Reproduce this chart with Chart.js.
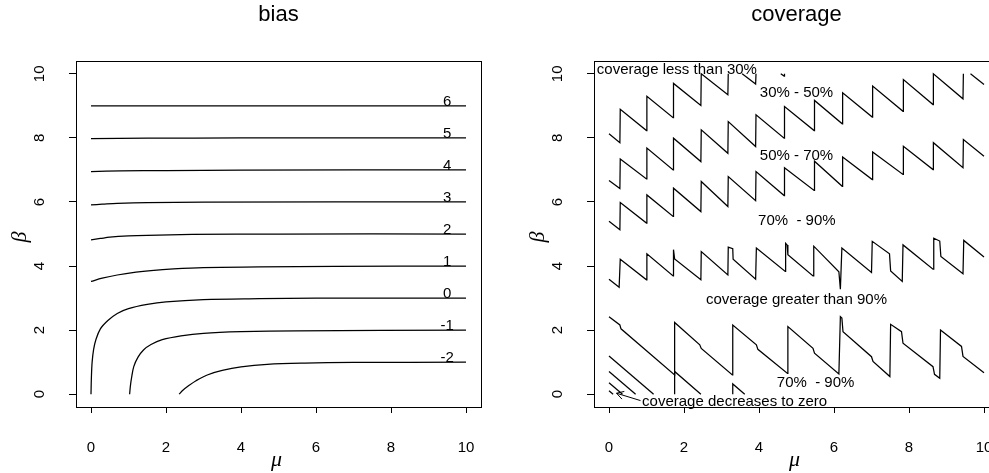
<!DOCTYPE html>
<html>
<head>
<meta charset="utf-8">
<title>bias and coverage</title>
<script src="https://cdn.jsdelivr.net/npm/chart.js@4/dist/chart.umd.min.js"></script>
<style>
  html, body { margin: 0; padding: 0; background: #fff; overflow: hidden; }
  #wrap { position: relative; width: 989px; height: 473px; overflow: hidden; }
  canvas { position: absolute; top: 0; }
  #biasCanvas { left: 0; }
  #coverageCanvas { left: 518px; }
</style>
</head>
<body>
<div id="wrap">
  <canvas id="biasCanvas" width="518" height="473"></canvas>
  <canvas id="coverageCanvas" width="518" height="473"></canvas>
</div>
<script>
// ---- axis ticks (both panels) ----
const muTicks = [0, 2, 4, 6, 8, 10];
const betaTicks = [0, 2, 4, 6, 8, 10];

// ---- bias panel: contour levels and their [mu, beta] paths ----
const biasLevels = [6, 5, 4, 3, 2, 1, 0, -1, -2];
const bias6 = [[0, 9.0], [5, 9.0], [10, 9.0]];
const bias5 = [[0, 7.98], [1.5, 7.99], [4, 8.0], [10, 8.0]];
const bias4 = [[0, 6.95], [0.8, 6.97], [2, 6.98], [4, 6.995], [10, 7.0]];
const bias3 = [[0, 5.91], [0.3, 5.93], [0.7, 5.955], [1.5, 5.98], [3, 5.995], [10, 6.0]];
const bias2 = [[0, 4.82], [0.25, 4.86], [0.5, 4.9], [1, 4.94], [1.5, 4.96], [2.7, 4.985], [5, 5.0], [10, 5.0]];
const bias1 = [[0, 3.52], [0.3, 3.62], [0.7, 3.72], [1.2, 3.81], [1.6, 3.86], [2.2, 3.91], [3, 3.95], [4.5, 3.97], [6.5, 3.99], [10, 4.0]];
const bias0 = [[0, 0], [0.01, 0.5], [0.03, 1.0], [0.07, 1.4], [0.13, 1.7], [0.25, 2.04], [0.45, 2.3], [0.7, 2.52], [1.0, 2.67], [1.5, 2.8], [2.0, 2.88], [3.0, 2.95], [4.5, 2.98], [6, 3.0], [10, 3.0]];
const biasM1 = [[1.03, 0], [1.05, 0.25], [1.08, 0.5], [1.14, 0.86], [1.25, 1.15], [1.4, 1.38], [1.6, 1.55], [1.9, 1.7], [2.4, 1.82], [3.0, 1.9], [4.0, 1.95], [5.5, 1.98], [10, 2.0]];
const biasM2 = [[2.35, 0], [2.45, 0.12], [2.6, 0.26], [2.8, 0.42], [3.1, 0.6], [3.5, 0.74], [4.0, 0.85], [4.7, 0.93], [5.7, 0.97], [7, 0.99], [10, 1.0]];
const biasPaths = [bias6, bias5, bias4, bias3, bias2, bias1, bias0, biasM1, biasM2];

// ---- coverage panel: contour pieces as [mu, beta] paths ----
// 30% contour (runs into the top edge of the grid)
const cov30a = [[0, 8.13], [0.29, 7.85], [0.30, 8.89], [1.0, 8.23], [1.01, 9.30], [1.71, 8.63], [1.72, 9.70], [2.45, 9.01], [2.46, 10.0], [3.17, 9.35], [3.18, 10.0]];
const cov30b = [[3.55, 10.0], [3.91, 9.68], [3.92, 10.0]];
const cov30c = [[4.58, 10.0], [4.67, 9.93], [4.68, 10.0]];
// 50% contour
const cov50a = [[0, 6.67], [0.29, 6.42], [0.30, 7.34], [1.0, 6.72], [1.01, 7.68], [1.71, 7.0], [1.72, 7.99], [2.45, 7.26], [2.46, 8.25], [3.17, 7.52], [3.18, 8.51], [3.91, 7.73], [3.92, 8.72], [4.67, 7.99], [4.68, 8.98], [5.47, 8.23], [5.48, 9.17], [6.22, 8.44], [6.23, 9.41], [7.02, 8.65], [7.03, 9.62], [7.84, 8.83], [7.85, 9.82], [8.64, 9.04], [8.65, 10.0], [9.44, 9.22], [9.45, 10.0]];
const cov50b = [[9.64, 10.0], [10.0, 9.67]];
// 70% contour, upper branch
const cov70a = [[0, 5.40], [0.29, 5.13], [0.30, 5.98], [1.0, 5.34], [1.01, 6.22], [1.71, 5.55], [1.72, 6.43], [2.45, 5.70], [2.46, 6.64], [3.17, 5.86], [3.18, 6.79], [3.91, 6.04], [3.92, 6.95], [4.67, 6.20], [4.68, 7.07], [5.47, 6.36], [5.48, 7.27], [6.22, 6.49], [6.23, 7.40], [7.02, 6.70], [7.03, 7.56], [7.84, 6.86], [7.85, 7.74], [8.64, 7.01], [8.65, 7.85], [9.44, 7.07], [9.45, 7.95], [10.0, 7.43]];
// 90% contour, upper branch
const cov90a = [[0, 3.59], [0.27, 3.34], [0.30, 4.21], [1.0, 3.57], [1.01, 4.38], [1.71, 3.69], [1.72, 4.51], [1.75, 4.22], [2.45, 3.57], [2.46, 4.45], [3.17, 3.72], [3.18, 4.59], [3.30, 4.54], [3.31, 4.21], [3.91, 3.59], [3.93, 4.56], [4.70, 3.83], [4.71, 4.71], [4.75, 4.66], [4.77, 4.35], [5.44, 3.69], [5.46, 4.62], [6.13, 3.82], [6.17, 3.28], [6.21, 4.56], [7.0, 3.80], [7.02, 4.77], [7.48, 4.38], [7.51, 3.85], [7.82, 3.52], [7.84, 4.66], [8.64, 3.90], [8.66, 4.87], [8.82, 4.78], [8.85, 4.30], [9.44, 3.76], [9.46, 4.80], [10.0, 4.28]];
// 90% contour, lower branch
const cov90b = [[0, 2.42], [0.29, 2.16], [0.32, 2.04], [1.75, 0.60], [1.75, 2.24], [2.42, 1.54], [2.46, 1.43], [3.29, 0.60], [3.30, 2.16], [3.93, 1.54], [3.97, 1.40], [4.76, 0.65], [4.77, 2.11], [5.44, 1.43], [5.48, 1.28], [6.13, 0.63], [6.17, 2.42], [6.21, 2.38], [6.24, 1.95], [7.0, 1.17], [7.04, 1.02], [7.49, 0.55], [7.51, 2.18], [7.80, 1.95], [7.84, 1.59], [8.64, 0.86], [8.68, 0.62], [8.82, 0.50], [8.84, 2.0], [9.40, 1.49], [9.44, 1.18], [10.0, 0.67]];
// lower contours closing in on the origin
const cov70b = [[0, 1.19], [1.19, 0]];
const cov70c = [[1.75, 0], [1.75, 0.71], [2.45, 0]];
const cov70d = [[3.30, 0], [3.30, 0.32], [3.62, 0]];
const cov50c = [[0, 0.71], [0.71, 0]];
const cov30d = [[0, 0.36], [0.36, 0]];
const cov10a = [[0, 0.11], [0.11, 0.0]];
const coveragePaths = [cov30a, cov30b, cov30c, cov50a, cov50b, cov70a, cov90a, cov90b, cov70b, cov70c, cov70d, cov50c, cov30d, cov10a];

// region notes: text, mu (centre), beta (baseline)
const noteTexts = ['coverage less than 30%', '30% - 50%', '50% - 70%', '70%  - 90%', 'coverage greater than 90%', '70%  - 90%', 'coverage decreases to zero'];
const noteMu = [1.81, 5.0, 5.0, 5.01, 5.0, 5.51, 3.35];
const noteBeta = [10.0, 9.29, 7.32, 5.29, 2.82, 0.21, -0.36];
// arrow from the last note to the origin corner: [mu, beta] tail, head
const zeroArrow = [[0.84, -0.2], [0.2, 0.03]];

// ---- drawing ----
const SANS = '"Liberation Sans", Arial, Helvetica, sans-serif';
const SERIF = '"Liberation Serif", "DejaVu Serif", serif';
Chart.defaults.font.family = SANS;
Chart.defaults.color = '#000';

function pathSet(points, smooth) {
  return {
    data: points.map(([m, b]) => ({ x: m, y: b })),
    showLine: true,
    borderColor: '#000',
    borderWidth: 1.25,
    pointRadius: 0,
    pointHoverRadius: 0,
    fill: false,
    tension: smooth ? 0.35 : 0
  };
}

function panelScales() {
  const grid = (len) => ({ display: true, drawOnChartArea: false, drawTicks: true, tickLength: len, tickColor: '#000', tickWidth: 1 });
  return {
    x: {
      type: 'linear', min: -0.4, max: 10.4,
      afterBuildTicks: s => { s.ticks = muTicks.map(v => ({ value: v })); },
      afterFit: s => { s.height = 66; },
      grid: grid(6),
      border: { display: false },
      ticks: { color: '#000', font: { size: 15 }, padding: 26, maxRotation: 0, autoSkip: false }
    },
    y: {
      type: 'linear', min: -0.4, max: 10.4,
      afterBuildTicks: s => { s.ticks = betaTicks.map(v => ({ value: v })); },
      afterFit: s => { s.width = 76; },
      grid: grid(7),
      border: { display: false },
      ticks: { display: false }
    }
  };
}

// frame, title, rotated beta ticks, axis symbols and panel-specific text
const panelDecor = {
  id: 'panelDecor',
  afterDraw(chart, args, opts) {
    const { ctx, chartArea: a } = chart;
    const y = chart.scales.y;
    ctx.save();
    ctx.strokeStyle = '#000';
    ctx.lineWidth = 1;
    ctx.strokeRect(Math.round(a.left) + 0.5, Math.round(a.top) + 0.5,
                   Math.round(a.right - a.left), Math.round(a.bottom - a.top));
    ctx.fillStyle = '#000';
    ctx.textAlign = 'center';
    ctx.textBaseline = 'alphabetic';
    ctx.font = '22px ' + SANS;
    ctx.fillText(opts.title, (a.left + a.right) / 2, 21);

    ctx.font = '15px ' + SANS;
    betaTicks.forEach(v => {
      ctx.save();
      ctx.translate(a.left - 32, y.getPixelForValue(v));
      ctx.rotate(-Math.PI / 2);
      ctx.fillText(String(v), 0, 0);
      ctx.restore();
    });

    ctx.font = 'italic 22px ' + SERIF;
    ctx.fillText('\u03bc', (a.left + a.right) / 2 - 2, a.bottom + 59);
    ctx.save();
    ctx.translate(a.left - 50, (a.top + a.bottom) / 2 + 3);
    ctx.rotate(-Math.PI / 2);
    ctx.fillText('\u03b2', 0, 0);
    ctx.restore();

    if (opts.extra) opts.extra(chart);
    ctx.restore();
  }
};

function biasLabels(chart) {
  const { ctx } = chart;
  const x = chart.scales.x, y = chart.scales.y;
  ctx.font = '15px ' + SANS;
  ctx.textAlign = 'center';
  ctx.textBaseline = 'alphabetic';
  biasLevels.forEach((lev, i) => {
    const path = biasPaths[i];
    const end = path[path.length - 1];
    ctx.fillText(String(lev), x.getPixelForValue(9.5), y.getPixelForValue(end[1]));
  });
}

function coverageNotes(chart) {
  const { ctx } = chart;
  const x = chart.scales.x, y = chart.scales.y;
  ctx.font = '15px ' + SANS;
  ctx.textAlign = 'center';
  ctx.textBaseline = 'alphabetic';
  noteTexts.forEach((t, i) => {
    ctx.fillText(t, x.getPixelForValue(noteMu[i]), y.getPixelForValue(noteBeta[i]));
  });
  const [tail, head] = zeroArrow;
  const x0 = x.getPixelForValue(tail[0]), y0 = y.getPixelForValue(tail[1]);
  const x1 = x.getPixelForValue(head[0]), y1 = y.getPixelForValue(head[1]);
  const ang = Math.atan2(y1 - y0, x1 - x0);
  const len = 8, spread = Math.PI / 6;
  ctx.strokeStyle = '#000';
  ctx.lineWidth = 1;
  ctx.beginPath();
  ctx.moveTo(x0, y0);
  ctx.lineTo(x1, y1);
  ctx.moveTo(x1 - len * Math.cos(ang - spread), y1 - len * Math.sin(ang - spread));
  ctx.lineTo(x1, y1);
  ctx.lineTo(x1 - len * Math.cos(ang + spread), y1 - len * Math.sin(ang + spread));
  ctx.stroke();
}

function makePanel(id, paths, smooth, title, extra) {
  return new Chart(document.getElementById(id), {
    type: 'scatter',
    data: { datasets: paths.map(p => pathSet(p, smooth)) },
    options: {
      responsive: false,
      animation: false,
      events: [],
      layout: { padding: { top: 61, right: 37, bottom: 0, left: 0 } },
      scales: panelScales(),
      plugins: {
        legend: { display: false },
        tooltip: { enabled: false },
        title: { display: false },
        panelDecor: { title: title, extra: extra }
      }
    },
    plugins: [panelDecor]
  });
}

makePanel('biasCanvas', biasPaths, true, 'bias', biasLabels);
makePanel('coverageCanvas', coveragePaths, false, 'coverage', coverageNotes);
</script>
</body>
</html>
